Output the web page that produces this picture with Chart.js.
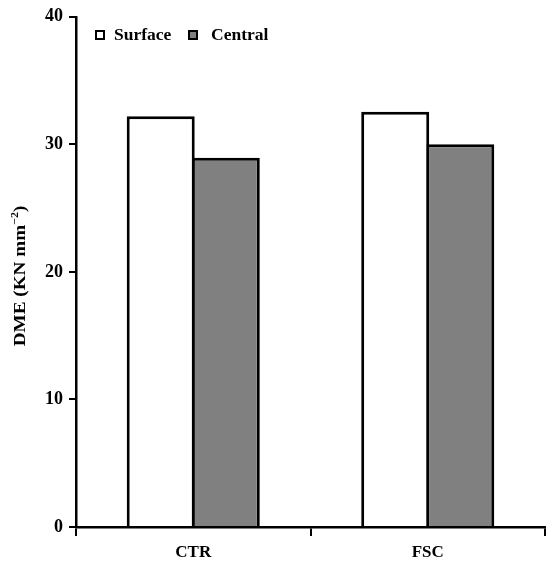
<!DOCTYPE html>
<html>
<head>
<meta charset="utf-8">
<script src="https://cdn.jsdelivr.net/npm/chart.js@4.4.0/dist/chart.umd.min.js"></script>
<style>
	html, body { margin: 0; padding: 0; background: #fff; }
	#wrap { width: 546px; height: 561px; }
</style>
</head>
<body>
<div id="wrap"><canvas id="DmeChart" width="546" height="561"></canvas></div>
<script>
'use strict';
const aryGroups = ['CTR', 'FSC'];
const arySurface = [32.2, 32.55];
const aryCentral = [28.95, 30.0];
const aryYTicks = [0, 10, 20, 30, 40];
const yTitle = 'DME (KN mm';
const yTitleSup = '\u22122';

const serif = '"Liberation Serif", "Times New Roman", serif';

// legend drawn inside the plot, top-left
const legendPlugin = {
	id: 'innerLegend',
	afterDraw(chart) {
		const ctx = chart.ctx;
		const pos = [[96, 114], [189, 211]];
		ctx.save();
		ctx.font = 'bold 17.5px ' + serif;
		ctx.textBaseline = 'middle';
		chart.data.datasets.forEach((ds, i) => {
			ctx.fillStyle = ds.backgroundColor;
			ctx.fillRect(pos[i][0], 31, 8, 8);
			ctx.strokeStyle = '#000';
			ctx.lineWidth = 2;
			ctx.strokeRect(pos[i][0], 31, 8, 8);
			ctx.fillStyle = '#000';
			ctx.fillText(ds.label, pos[i][1], 35);
		});
		ctx.restore();
	}
};

// y title with superscript
const yTitlePlugin = {
	id: 'yTitle',
	afterDraw(chart) {
		const ctx = chart.ctx;
		const area = chart.chartArea;
		ctx.save();
		ctx.translate(21, (area.top + area.bottom) / 2 + 4);
		ctx.rotate(-Math.PI / 2);
		ctx.scale(1.2, 1);
		ctx.fillStyle = '#000';
		ctx.textBaseline = 'middle';
		ctx.textAlign = 'left';
		ctx.font = 'bold 16px ' + serif;
		const w1 = ctx.measureText(yTitle).width;
		const w3 = ctx.measureText(')').width;
		ctx.font = 'bold 10px ' + serif;
		const w2 = ctx.measureText(yTitleSup).width;
		let x = -(w1 + w2 + w3) / 2;
		ctx.font = 'bold 16px ' + serif;
		ctx.fillText(yTitle, x, 0);
		x += w1;
		ctx.font = 'bold 10px ' + serif;
		ctx.fillText(yTitleSup, x, -6);
		x += w2;
		ctx.font = 'bold 16px ' + serif;
		ctx.fillText(')', x, 0);
		ctx.restore();
	}
};

const dmeChart = new Chart(document.getElementById('DmeChart'), {
	type: 'bar',
	data: {
		labels: aryGroups,
		datasets: [
			{
				label: 'Surface',
				data: arySurface,
				backgroundColor: '#ffffff',
				borderColor: '#000000',
				borderWidth: 3,
				borderSkipped: 'bottom',
			},
			{
				label: 'Central',
				data: aryCentral,
				backgroundColor: '#808080',
				borderColor: '#000000',
				borderWidth: 3,
				borderSkipped: 'bottom',
			},
		],
	},
	options: {
		responsive: false,
		animation: false,
		layout: { padding: { top: 15, right: 1, left: 0, bottom: 0 } },
		datasets: {
			bar: { categoryPercentage: 0.555, barPercentage: 1.045 },
		},
		plugins: {
			legend: { display: false },
			title: { display: false },
			tooltip: { enabled: false },
		},
		scales: {
			x: {
				grid: {
					offset: true,
					drawOnChartArea: false,
					drawTicks: true,
					tickLength: 9,
					color: '#000',
					lineWidth: 2,
				},
				border: { color: '#000', width: 2.5 },
				ticks: {
					color: '#000',
					padding: 6,
					font: { family: serif, size: 17, weight: 'bold' },
				},
				afterFit(scale) { scale.height = 34; },
			},
			y: {
				min: 0,
				max: 40,
				afterBuildTicks(scale) {
					scale.ticks = aryYTicks.map((v) => ({ value: v }));
				},
				grid: {
					drawOnChartArea: false,
					drawTicks: true,
					tickLength: 7,
					color: '#000',
					lineWidth: 2,
				},
				border: { color: '#000', width: 2.5 },
				ticks: {
					color: '#000',
					padding: 6,
					font: { family: serif, size: 18, weight: 'bold' },
				},
				afterFit(scale) { scale.width = 76; },
			},
		},
	},
	plugins: [legendPlugin, yTitlePlugin],
});
</script>
</body>
</html>
